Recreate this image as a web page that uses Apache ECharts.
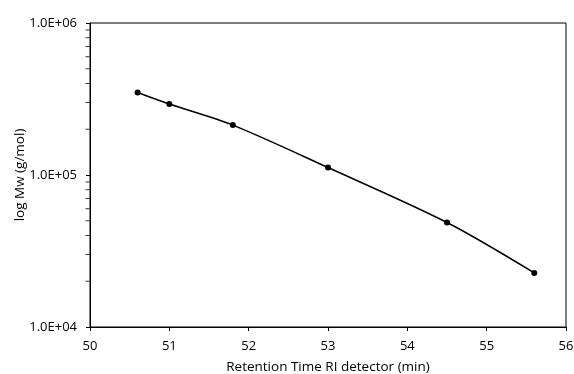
<!DOCTYPE html>
<html>
<head>
<meta charset="utf-8">
<script src="https://cdn.jsdelivr.net/npm/echarts@6/dist/echarts.min.js"></script>
<style>
  html, body { margin: 0; padding: 0; background: #fff; }
  #chart { width: 574px; height: 374px; }
</style>
</head>
<body>
<div id="chart"></div>
<script>
// retention time (min) and molecular weight (g/mol) of the calibration standards
const retentionTime = [50.6, 51.0, 51.8, 53.0, 54.5, 55.6]
const molWeight = [349000, 293000, 213000, 112000, 48700, 22700]

// minor tick positions on the log axis
const yMinor = [2e4, 3e4, 4e4, 5e4, 6e4, 7e4, 8e4, 9e4,
  2e5, 3e5, 4e5, 5e5, 6e5, 7e5, 8e5, 9e5]

const font = "'Open Sans', 'Liberation Sans', sans-serif"

function sciLabel(v) {
  const exp = Math.round(Math.log10(v))
  const mant = v / Math.pow(10, exp)
  const sign = exp < 0 ? "-" : "+"
  return mant.toFixed(1) + "E" + sign + String(Math.abs(exp)).padStart(2, "0")
}

const chart = echarts.init(document.getElementById("chart"))

const option = {
  backgroundColor: "#fff",
  animation: false,
  grid: {
    left: 90, right: 8, top: 23, bottom: 47,
    outerBoundsMode: "none",
    show: true, borderColor: "#000", borderWidth: 1
  },
  xAxis: {
    type: "value",
    min: 50,
    max: 56,
    interval: 1,
    name: "Retention Time RI detector (min)",
    nameLocation: "middle",
    nameGap: 33,
    nameMoveOverlap: false,
    nameTextStyle: { fontFamily: font, fontSize: 13.5, color: "#000" },
    axisLine: { lineStyle: { color: "#000", width: 1 } },
    axisTick: { show: true, inside: false, length: 4, lineStyle: { color: "#000" } },
    axisLabel: { fontFamily: font, fontSize: 13, color: "#000", margin: 13 },
    splitLine: { show: false }
  },
  yAxis: {
    type: "log",
    logBase: 10,
    min: 1e4,
    max: 1e6,
    name: "log Mw (g/mol)",
    nameLocation: "middle",
    nameRotate: 90,
    nameGap: 63,
    nameMoveOverlap: false,
    nameTextStyle: { fontFamily: font, fontSize: 13.5, color: "#000" },
    axisLine: { show: true, lineStyle: { color: "#000", width: 1 } },
    axisTick: { show: true, length: 4, lineStyle: { color: "#000" } },
    axisLabel: { fontFamily: font, fontSize: 13, color: "#000", margin: 13, formatter: sciLabel },
    splitLine: { show: false }
  },
  series: [
    {
      type: "line",
      data: retentionTime.map((t, i) => [t, molWeight[i]]),
      smooth: 0.3,
      symbol: "circle",
      symbolSize: 6,
      itemStyle: { color: "#000" },
      lineStyle: { color: "#000", width: 1.5 },
      z: 3
    },
    {
      // minor ticks on the left axis, drawn as short marks
      type: "scatter",
      data: yMinor.map(v => [50, v]),
      symbol: "rect",
      symbolSize: [4, 1],
      symbolOffset: [-2.5, 0],
      itemStyle: { color: "#000" },
      clip: false,
      silent: true,
      z: 2
    }
  ]
}

chart.setOption(option)
</script>
</body>
</html>
